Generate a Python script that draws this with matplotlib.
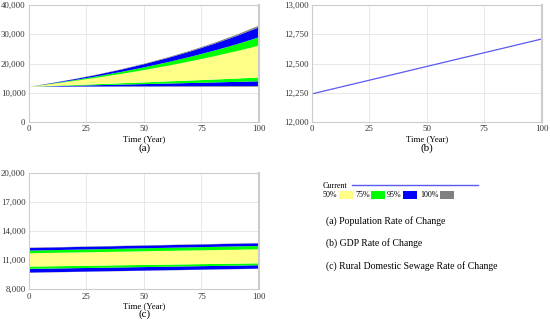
import matplotlib
matplotlib.use("Agg")
import matplotlib.pyplot as plt
from matplotlib.patches import Rectangle
from matplotlib.lines import Line2D

plt.rcParams['font.family'] = ['Liberation Serif', 'DejaVu Serif']

t = [0, 10, 20, 30, 40, 50, 60, 70, 80, 90, 100]

# Panel (a): Population - sensitivity bounds
a_100_hi = [12250, 13530, 14950, 16510, 18240, 20150, 22260, 24590, 27160, 30000, 33200]
a_95_hi = [12250, 13510, 14900, 16420, 18110, 19980, 22030, 24300, 26800, 29550, 32600]
a_75_hi = [12250, 13360, 14570, 15890, 17330, 18900, 20610, 22480, 24520, 26740, 29200]
a_50_hi = [12250, 13220, 14280, 15420, 16640, 17970, 19400, 20940, 22600, 24400, 26300]
a_50_lo = [12250, 12530, 12820, 13120, 13420, 13730, 14040, 14360, 14690, 15030, 15400]
a_75_lo = [12250, 12420, 12600, 12780, 12960, 13140, 13330, 13510, 13700, 13900, 14100]
a_95_lo = [12250, 12270, 12300, 12320, 12350, 12370, 12400, 12420, 12450, 12470, 12500]
a_100_lo = [12250, 12240, 12230, 12230, 12220, 12220, 12220, 12220, 12220, 12220, 12230]

# Panel (b): GDP current
b_t = [0, 100]
b_current = [12240, 12710]

# Panel (c): Rural domestic sewage bounds
c_t = [0, 100]
c_100_hi = [12340, 12820]
c_95_hi = [12310, 12790]
c_75_hi = [12035, 12520]
c_50_hi = [11760, 12170]
c_50_lo = [10380, 10720]
c_75_lo = [10140, 10520]
c_95_lo = [9760, 10170]
c_100_lo = [9740, 10150]

col_50 = '#ffff88'
col_75 = '#00ff00'
col_95 = '#0000ff'
col_100 = '#808080'
col_line = '#5a5af0'

fig = plt.figure(figsize=(5.5, 3.23), dpi=100)

def style(ax, ylim, yticks, ylabels):
    ax.set_xlim(0, 100)
    ax.set_ylim(*ylim)
    ax.set_xticks([0, 25, 50, 75, 100])
    ax.set_xticklabels(['0', '25', '50', '75', '100'])
    ax.set_yticks(yticks)
    ax.set_yticklabels(ylabels)
    ax.tick_params(length=0, labelsize=6.3, pad=2.5, colors='#333333')
    ax.grid(True, color='#e4e4e4', lw=0.6)
    ax.set_axisbelow(True)
    for s in ax.spines.values():
        s.set_color('#cccccc')
        s.set_linewidth(0.8)
    ax.spines['right'].set_linewidth(1.5)
    ax.set_xlabel('Time (Year)', fontsize=6.3, labelpad=1.5)

def bands(ax, x, lo100, lo95, lo75, lo50, hi50, hi75, hi95, hi100):
    ax.fill_between(x, lo100, lo95, color=col_100, lw=0)
    ax.fill_between(x, lo95, lo75, color=col_95, lw=0)
    ax.fill_between(x, lo75, lo50, color=col_75, lw=0)
    ax.fill_between(x, lo50, hi50, color=col_50, lw=0)
    ax.fill_between(x, hi50, hi75, color=col_75, lw=0)
    ax.fill_between(x, hi75, hi95, color=col_95, lw=0)
    ax.fill_between(x, hi95, hi100, color=col_100, lw=0)

# (a)
axa = fig.add_axes([0.0527, 0.6223, 0.418, 0.362])
bands(axa, t, a_100_lo, a_95_lo, a_75_lo, a_50_lo, a_50_hi, a_75_hi, a_95_hi, a_100_hi)
style(axa, (0, 40000), [0, 10000, 20000, 30000, 40000], ['0', '10,000', '20,000', '30,000', '40,000'])
fig.text(0.2636, 1 - 148/323, '(a)', ha='center', va='center', fontsize=8)

# (b)
axb = fig.add_axes([0.567, 0.6223, 0.418, 0.362])
axb.plot(b_t, b_current, color=col_line, lw=0.9)
style(axb, (12000, 13000), [12000, 12250, 12500, 12750, 13000], ['12,000', '12,250', '12,500', '12,750', '13,000'])
fig.text(0.776, 1 - 148/323, '(b)', ha='center', va='center', fontsize=8)

# (c)
axc = fig.add_axes([0.0527, 0.105, 0.418, 0.359])
bands(axc, c_t, c_100_lo, c_95_lo, c_75_lo, c_50_lo, c_50_hi, c_75_hi, c_95_hi, c_100_hi)
style(axc, (8000, 20000), [8000, 11000, 14000, 17000, 20000], ['8,000', '11,000', '14,000', '17,000', '20,000'])
fig.text(0.2636, 1 - 314.5/323, '(c)', ha='center', va='center', fontsize=8)

# Legend
fy1 = 1 - 185.5/323
fig.text(323/550, fy1, 'Current', fontsize=5.8, va='center', ha='left')
fig.add_artist(Line2D([352/550, 478/550], [1 - 184.5/323] * 2, color=col_line, lw=1.0))
fy2 = 1 - 195/323
items = [('50%', col_50, 323, 339), ('75%', col_75, 355, 371), ('95%', col_95, 387, 403), ('100%', col_100, 420, 440)]
for lab, c, xt, xs in items:
    fig.text(xt/550, fy2, lab, fontsize=5.8, va='center', ha='left')
    fig.add_artist(Rectangle((xs/550, 1 - 199/323), 14/550, 8/323, facecolor=c, edgecolor='none',
                             transform=fig.transFigure))

captions = ['(a) Population Rate of Change', '(b) GDP Rate of Change', '(c) Rural Domestic Sewage Rate of Change']
for i, cap in enumerate(captions):
    fig.text(326/550, 1 - (221 + 22.5*i)/323, cap, fontsize=7, va='center', ha='left')

fig.savefig('out.png', dpi=100)
